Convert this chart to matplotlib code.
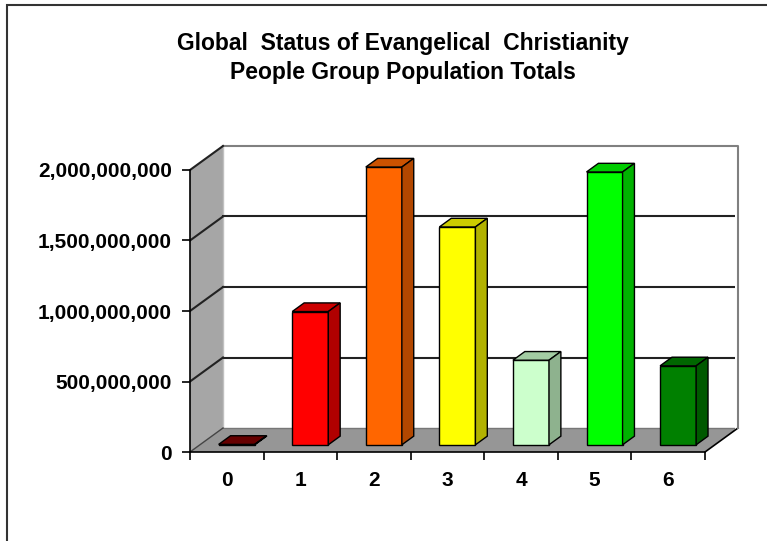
import matplotlib
matplotlib.use('Agg')
import matplotlib.pyplot as plt
from matplotlib.patches import Polygon, Rectangle

# data
categories = ['0', '1', '2', '3', '4', '5', '6']
populations = [3e6, 945e6, 1970e6, 1545e6, 600e6, 1935e6, 560e6]
front_colors = ['#660000', '#FF0000', '#FF6600', '#FFFF00', '#CCFFCC', '#00FF00', '#008000']
top_colors = ['#660000', '#CC0000', '#CC5200', '#CCCC00', '#A3CCA3', '#00CC00', '#006600']
side_colors = ['#4D0000', '#B00000', '#B24700', '#B2B200', '#8EB28E', '#00B200', '#005900']
yticks = [0, 500e6, 1000e6, 1500e6, 2000e6]
title = 'Global  Status of Evangelical  Christianity\nPeople Group Population Totals'

plt.rcParams['font.family'] = ['Liberation Sans', 'DejaVu Sans']

W, H = 767, 541
fig = plt.figure(figsize=(W / 100, H / 100), dpi=100)

# axes covers front axis origin to back wall top-right corner
x_left, x_right = 190, 735
y_bot, y_top = 452, 146
ax = fig.add_axes([x_left / W, 1 - y_bot / H, (x_right - x_left) / W, (y_bot - y_top) / H])

n = len(categories)
px_per_cat = (705 - 190) / n
px_per_val = (452 - 170) / 2000e6
dx = 33 / px_per_cat          # depth offset in category units
dy = 24 / px_per_val          # depth offset in value units
ymax = 2000e6

ax.set_xlim(-0.5, -0.5 + (x_right - x_left) / px_per_cat)
ax.set_ylim(0, (y_bot - y_top) / px_per_val)
ax.patch.set_visible(False)

x0, x1 = -0.5, n - 0.5
# left wall
ax.add_patch(Polygon([(x0, 0), (x0 + dx, dy), (x0 + dx, ymax + dy), (x0, ymax)],
                     closed=True, facecolor='#A6A6A6', edgecolor='none', zorder=1))
# floor
ax.add_patch(Polygon([(x0, 0), (x1, 0), (x1 + dx, dy), (x0 + dx, dy)],
                     closed=True, facecolor='#969696', edgecolor='none', zorder=1))
ax.plot([x1, x1 + dx], [0, dy], color='black', lw=1.2, zorder=2, clip_on=False)
# back wall outline
ax.plot([x0 + dx, x1 + dx, x1 + dx], [ymax + dy, ymax + dy, dy], color='#808080', lw=1.5,
        zorder=2, clip_on=False)
ax.plot([x0 + dx, x0 + dx], [dy, ymax + dy], color='#C0C0C0', lw=1, zorder=2)
ax.plot([x0 + dx, x1 + dx], [dy, dy], color='#777777', lw=1, zorder=2)

# gridlines on back and left walls
for v in yticks[1:]:
    if v < ymax:
        ax.plot([x0 + dx, x1 + dx], [v + dy, v + dy], color='#222222', lw=1.5, zorder=2)
    ax.plot([x0, x0 + dx], [v, v + dy], color='#222222', lw=1.5, zorder=2, clip_on=False)
ax.plot([x0, x0 + dx], [0, dy], color='#444444', lw=1, zorder=2)

# bars
bw = 0.49
off = 0.3
depth = 0.36
xs = [i + off * dx for i in range(n)]
base = off * dy
ax.bar(xs, populations, width=bw, bottom=base, color=front_colors,
       edgecolor='black', linewidth=1, zorder=3)
ddx, ddy = depth * dx, depth * dy
for x, v, tc, sc in zip(xs, populations, top_colors, side_colors):
    l, r = x - bw / 2, x + bw / 2
    t = base + v
    ax.add_patch(Polygon([(l, t), (r, t), (r + ddx, t + ddy), (l + ddx, t + ddy)],
                         closed=True, facecolor=tc, edgecolor='black', lw=1, zorder=3))
    ax.add_patch(Polygon([(r, base), (r + ddx, base + ddy), (r + ddx, t + ddy), (r, t)],
                         closed=True, facecolor=sc, edgecolor='black', lw=1, zorder=3))

# axes, ticks
for s in ['top', 'right']:
    ax.spines[s].set_visible(False)
ax.spines['left'].set_bounds(0, ymax)
ax.spines['bottom'].set_bounds(x0, x1)
ax.spines['left'].set_linewidth(1.2)
ax.spines['bottom'].set_linewidth(1.2)
ax.spines['left'].set_zorder(4)
ax.spines['bottom'].set_zorder(4)

ax.set_yticks(yticks)
ax.set_yticklabels(['{:,.0f}'.format(v) for v in yticks], fontsize=15, fontweight='bold')
ax.tick_params(axis='y', length=6, width=1.2, pad=7)

ax.set_xticks([i - 0.5 for i in range(n + 1)])
ax.set_xticklabels([])
ax.tick_params(axis='x', which='major', length=6, width=1.2, direction='out')
ax.set_xticks(range(n), minor=True)
ax.set_xticklabels(categories, minor=True, fontsize=15, fontweight='bold')
ax.tick_params(axis='x', which='minor', length=0, pad=14)

fig.text(403 / W, 1 - 58 / H, title, ha='center', va='center', fontsize=16.5,
         fontweight='bold', linespacing=1.28)

# chart border (only left and top sides are inside the image)
fig.add_artist(Rectangle((7 / W, -0.1), 1.2, 1 - 5 / H + 0.1, transform=fig.transFigure,
                         fill=False, edgecolor='#333333', lw=1.5))

fig.savefig('out.png', dpi=100)
